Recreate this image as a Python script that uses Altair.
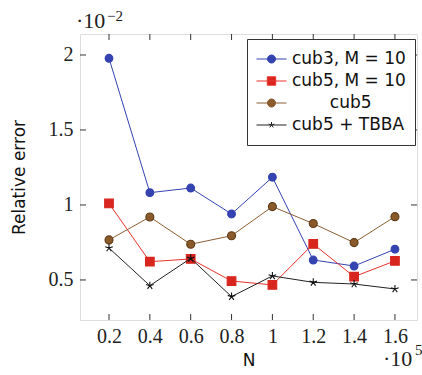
import altair as alt
import pandas as pd

# ---- data (x in units of 1e5, y in units of 1e-2) ----
N = [0.2, 0.4, 0.6, 0.8, 1.0, 1.2, 1.4, 1.6]
cub3_M10 = [1.978, 1.082, 1.113, 0.940, 1.185, 0.633, 0.593, 0.705]
cub5_M10 = [1.010, 0.622, 0.640, 0.493, 0.467, 0.740, 0.522, 0.627]
cub5 = [0.767, 0.920, 0.738, 0.795, 0.989, 0.876, 0.749, 0.922]
cub5_TBBA = [0.713, 0.462, 0.644, 0.389, 0.527, 0.484, 0.473, 0.440]

series_names = ["cub3, M = 10", "cub5, M = 10", "cub5", "cub5 + TBBA"]
series_values = [cub3_M10, cub5_M10, cub5, cub5_TBBA]

x_ticks = [0.2, 0.4, 0.6, 0.8, 1.0, 1.2, 1.4, 1.6]
y_ticks = [0.5, 1.0, 1.5, 2.0]

# ---- styles ----
W, H = 337, 286
SANS = "DejaVu Sans"
SERIF = "Liberation Serif"

STAR = "M0,0L0,-1M0,0L0.951,-0.309M0,0L0.588,0.809M0,0L-0.588,0.809M0,0L-0.951,-0.309"

styles = [
    dict(line="#3443b0", fill="#3443b0", stroke="#3443b0", shape="circle", size=60, filled=True),
    dict(line="#e8332e", fill="#d8261f", stroke="#d8261f", shape="square", size=75, filled=True),
    dict(line="#8b5e34", fill="#8a5a2b", stroke="#5e3a17", shape="circle", size=64, filled=True),
    dict(line="#222222", fill="#222222", stroke="#111111", shape=STAR, size=64, filled=False),
]

legend_paths = [
    "M-1,0L1,0M0.27,0A0.27,0.27 0 1,1 -0.27,0A0.27,0.27 0 1,1 0.27,0Z",
    "M-1,0L1,0M-0.28,-0.28L0.28,-0.28L0.28,0.28L-0.28,0.28Z",
    "M-1,0L1,0M0.27,0A0.27,0.27 0 1,1 -0.27,0A0.27,0.27 0 1,1 0.27,0Z",
    "M-1,0L1,0M0,0L0,-0.2M0,0L0.19,-0.062M0,0L0.118,0.162M0,0L-0.118,0.162M0,0L-0.19,-0.062",
]
# legend texts ("cub5" is centred in the original legend box)
legend_labels = [("\u200d" + "\u00a0" * 7 + n) if n == "cub5" else n for n in series_names]

rows = []
for name, vals in zip(series_names, series_values):
    for x, y in zip(N, vals):
        rows.append({"series": name, "N": x, "err": y})
df = pd.DataFrame(rows)

xscale = alt.Scale(domain=[0.058, 1.708], nice=False, zero=False)
yscale = alt.Scale(domain=[0.233, 2.14], nice=False, zero=False)

xaxis = alt.Axis(values=x_ticks, format="~g", grid=False, domain=False, ticks=False,
                 labelFont=SERIF, labelFontSize=20, labelPadding=6, labelColor="#222",
                 title="N", titleFont=SANS, titleFontSize=17, titleFontWeight="normal",
                 titlePadding=6, titleColor="#111")
yaxis = alt.Axis(values=y_ticks, format="~g", grid=False, domain=False, ticks=False,
                 labelFont=SERIF, labelFontSize=20, labelPadding=7, labelColor="#222",
                 title="Relative error", titleFont=SANS, titleFontSize=17,
                 titleFontWeight="normal", titlePadding=20, titleColor="#111")

def X(field):
    return alt.X(field, scale=xscale, axis=xaxis)

def Y(field):
    return alt.Y(field, scale=yscale, axis=yaxis)

base = alt.Chart(df)
layers = []
for name, st in zip(series_names, styles):
    sub = base.transform_filter(alt.datum.series == name)
    layers.append(sub.mark_line(color=st["line"], strokeWidth=1).encode(x=X("N:Q"), y=Y("err:Q")))
    layers.append(sub.mark_point(shape=st["shape"], size=st["size"], filled=st["filled"],
                                 fill=st["fill"] if st["filled"] else "transparent",
                                 stroke=st["stroke"], strokeWidth=1.1, opacity=1)
                  .encode(x=X("N:Q"), y=Y("err:Q")))

# legend driven by an empty layer with explicit scales
leg = alt.Legend(title=None, orient="none", legendX=167, legendY=5,
                 strokeColor="#333", fillColor="white", padding=9,
                 labelFont=SANS, labelFontSize=17, labelColor="#111", labelOffset=5,
                 symbolSize=900, symbolStrokeWidth=1, clipHeight=22, rowPadding=0,
                 labelLimit=300, symbolOpacity=1)
legend_layer = base.transform_filter(alt.datum.N < 0).mark_point(filled=True, strokeWidth=1, opacity=1).encode(
    x=X("N:Q"), y=Y("err:Q"),
    fill=alt.Fill("series:N", scale=alt.Scale(domain=legend_labels,
                  range=[s["fill"] if s["filled"] else s["line"] for s in styles]), legend=leg),
    stroke=alt.Stroke("series:N", scale=alt.Scale(domain=legend_labels,
                      range=[s["line"] for s in styles]), legend=leg),
    shape=alt.Shape("series:N", scale=alt.Scale(domain=legend_labels, range=legend_paths), legend=leg),
)
layers.append(legend_layer)

# inward tick marks on all four sides
xt = alt.Chart(pd.DataFrame({"t": x_ticks}))
yt = alt.Chart(pd.DataFrame({"t": y_ticks}))
tick_col = "#333"
layers += [
    xt.mark_rule(color=tick_col, strokeWidth=1).encode(x=X("t:Q"), y=alt.value(H), y2=alt.value(H - 6)),
    xt.mark_rule(color=tick_col, strokeWidth=1).encode(x=X("t:Q"), y=alt.value(0), y2=alt.value(6)),
    yt.mark_rule(color=tick_col, strokeWidth=1).encode(y=Y("t:Q"), x=alt.value(0), x2=alt.value(6)),
    yt.mark_rule(color=tick_col, strokeWidth=1).encode(y=Y("t:Q"), x=alt.value(W), x2=alt.value(W - 6)),
]

# exponent annotations
def txt(s, x, y, size, align="left"):
    return alt.Chart(pd.DataFrame({"s": [s]})).mark_text(
        font=SERIF, fontSize=size, align=align, baseline="alphabetic", color="#222"
    ).encode(text="s:N", x=alt.value(x), y=alt.value(y))

layers += [
    txt("·10", -4, -6, 22),
    txt("−2", 27, -13, 15),
    txt("·10", 303, 332, 22),
    txt("5", 335, 321, 15),
]

chart = alt.layer(*layers).properties(
    width=W, height=H,
    autosize=alt.AutoSizeParams(type="none"),
    padding={"left": 80, "top": 34, "right": 5, "bottom": 55},
).configure_view(stroke="#222", strokeWidth=1.2).configure(background="white")

chart.save("out.html", embed_options={"renderer": "svg", "actions": False})
